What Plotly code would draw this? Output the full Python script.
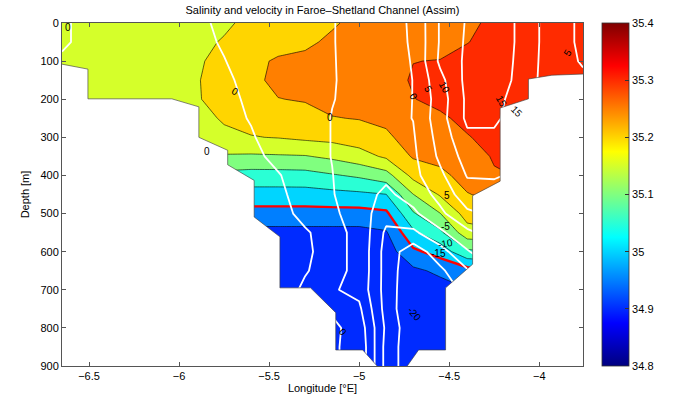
import plotly.graph_objects as go

# ---------------- data ----------------
lon_grid = [-6.65, -6.5, -6.35, -6.2, -6.05, -5.9, -5.75, -5.6, -5.45, -5.3,
            -5.15, -5.0, -4.85, -4.7, -4.55, -4.4, -4.25, -4.1, -3.95, -3.757]
depth_grid = [0, 50, 100, 150, 200, 250, 300, 350, 400, 450, 500, 550, 600,
              650, 700, 750, 800, 850, 900]

# salinity profiles (psu), one list per longitude column, top to bottom
sal_west = [35.175, 35.175, 35.178, 35.18, 35.182, 35.18, 35.172, 35.16, 35.09, 35.03,
            34.982, 34.935, 34.92, 34.92, 34.915, 34.912, 34.91, 34.91, 34.91]
salinity_by_lon = [
    sal_west, sal_west, sal_west, sal_west, sal_west,
    [35.18, 35.185, 35.19, 35.195, 35.195, 35.185, 35.175, 35.16, 35.09, 35.03, 34.982, 34.935, 34.92, 34.92, 34.915, 34.912, 34.91, 34.91, 34.91],
    [35.19, 35.205, 35.225, 35.235, 35.225, 35.205, 35.19, 35.145, 35.085, 35.03, 34.982, 34.935, 34.92, 34.92, 34.915, 34.912, 34.91, 34.91, 34.91],
    [35.215, 35.225, 35.24, 35.24, 35.23, 35.215, 35.198, 35.143, 35.08, 35.03, 34.982, 34.935, 34.92, 34.92, 34.915, 34.912, 34.91, 34.91, 34.91],
    [35.225, 35.235, 35.255, 35.26, 35.249, 35.225, 35.202, 35.145, 35.08, 35.03, 34.982, 34.935, 34.92, 34.92, 34.915, 34.912, 34.91, 34.91, 34.91],
    [35.235, 35.242, 35.26, 35.265, 35.253, 35.235, 35.21, 35.147, 35.082, 35.03, 34.982, 34.935, 34.92, 34.92, 34.915, 34.912, 34.91, 34.91, 34.91],
    [35.245, 35.258, 35.27, 35.272, 35.265, 35.248, 35.215, 35.16, 35.095, 35.035, 34.982, 34.935, 34.92, 34.92, 34.915, 34.912, 34.91, 34.91, 34.91],
    [35.262, 35.268, 35.275, 35.278, 35.272, 35.252, 35.225, 35.18, 35.108, 35.04, 34.982, 34.935, 34.92, 34.92, 34.915, 34.912, 34.91, 34.91, 34.91],
    [35.275, 35.28, 35.285, 35.288, 35.282, 35.262, 35.24, 35.208, 35.13, 35.049, 34.99, 34.945, 34.925, 34.92, 34.915, 34.912, 34.91, 34.91, 34.91],
    [35.29, 35.295, 35.2995, 35.303, 35.299, 35.29, 35.275, 35.255, 35.215, 35.149, 35.095, 35.04, 34.99, 34.94, 34.925, 34.918, 34.915, 34.912, 34.91],
    [35.285, 35.29, 35.301, 35.31, 35.308, 35.295, 35.28, 35.262, 35.24, 35.205, 35.149, 35.09, 35.02, 34.96, 34.93, 34.925, 34.92, 34.918, 34.915],
    [35.295, 35.299, 35.31, 35.318, 35.315, 35.308, 35.298, 35.28, 35.265, 35.248, 35.22, 35.18, 35.09, 34.98, 34.948, 34.94, 34.93, 34.925, 34.92],
    [35.305, 35.31, 35.318, 35.322, 35.32, 35.315, 35.31, 35.304, 35.296, 35.26, 35.23, 35.19, 35.098, 34.995, 34.948, 34.94, 34.93, 34.925, 34.92],
    [35.31, 35.315, 35.32, 35.325, 35.325, 35.32, 35.315, 35.31, 35.302, 35.27, 35.23, 35.19, 35.098, 34.995, 34.948, 34.94, 34.93, 34.925, 34.92],
    [35.315, 35.318, 35.322, 35.326, 35.326, 35.322, 35.316, 35.31, 35.302, 35.27, 35.23, 35.19, 35.098, 34.995, 34.948, 34.94, 34.93, 34.925, 34.92],
    [35.318, 35.32, 35.324, 35.327, 35.327, 35.323, 35.317, 35.31, 35.302, 35.27, 35.23, 35.19, 35.098, 34.995, 34.948, 34.94, 34.93, 34.925, 34.92],
]

# along-section velocity (cm/s), one list per depth row, west to east
velocity_by_depth = [
    [0.5, -1, -1, -1, -1, -0.5, 0.5, 1.5, 1.5, 1.5, 0.2, -1.5, -1.5, 0.5, 10.5, 15.5, 18, 14, 8, 4],
    [0.5, -1, -1, -1, -1, -0.8, 0.3, 1.5, 1.5, 1.5, 0.2, -1.5, -1.5, 0.4, 10.5, 15.8, 18, 14, 8, 4],
    [-0.5, -1, -1, -1, -1, -1, -0.1, 1.2, 1.5, 1.5, 0.2, -1.2, -1.5, 0.2, 11, 16, 18.5, 13.5, 8, 4.5],
    [-1, -1, -1, -1, -1, -1, -0.5, 0.8, 1.5, 1.5, 0.2, -1, -1.5, 0.05, 8.5, 16.5, 18.5, 13, 8, 6],
    [-1, -1, -1, -1, -1, -1, -0.8, 0.5, 1.5, 1.5, 0.1, -0.8, -1.3, 0.05, 7.5, 16, 17, 12, 8, 6],
    [-1, -1, -1, -1, -1, -1, -1, 0.2, 1.5, 1.5, -0.1, -0.8, -1.5, 0.1, 8, 16, 16, 12, 8, 6],
    [-1, -1, -1, -1, -1, -1, -1, -0.3, 1.5, 1.5, -0.1, -1.5, -2, -0.5, 7, 14, 14, 11, 8, 6],
    [-1, -1, -1, -1, -1, -1, -1, -0.8, 0.8, 1.5, -0.1, -2, -3, -1, 6, 12, 12, 10.5, 8, 6],
    [-1, -1, -1, -1, -1, -1, -1, -1, -0.2, 1.5, 0.1, -2.5, -4, -1.5, 4, 10.3, 10.5, 9, 8, 6],
    [-1, -1, -1, -1, -1, -1, -1, -1, -0.6, 1.2, 0.3, -3, -6, -3, 1.5, 8, 8, 8, 8, 6],
    [-1, -1, -1, -1, -1, -1, -1, -1, -1, 0.8, 1, -2.5, -8, -6, -1, 4, 6, 7, 7, 6],
    [-1, -1, -1, -1, -1, -1, -1, -1, -1, -0.3, 1.2, -1, -11, -11, -6, -1, 2, 4, 4, 4],
    [-1, -1, -1, -1, -1, -1, -1, -1, -1.5, -0.5, 1.2, -1, -12, -18, -12, -5.5, -1, 2, 3, 3],
    [-1, -1, -1, -1, -1, -1, -1, -1, -1.5, -0.2, 1.2, -1, -12, -19, -16, -10.5, -5.5, -1, 1, 1],
    [-1, -1, -1, -1, -1, -1, -1, -1, -1.5, 0.5, 0.5, -1.5, -12, -19.5, -17, -14, -8, -4, -2, -1],
    [-1, -1, -1, -1, -1, -1, -1, -1, -1.5, -1.5, 1.0, 1.0, -12, -19.8, -17, -14, -8, -4, -2, -1],
    [-1, -1, -1, -1, -1, -1, -1, -1, -1.5, -1.5, -1.5, 3, -11, -19, -16, -14, -8, -4, -2, -1],
    [-1, -1, -1, -1, -1, -1, -1, -1, -1.5, -1.5, -1.5, 4, -11.7, -19, -16, -14, -8, -4, -2, -1],
    [-1, -1, -1, -1, -1, -1, -1, -1, -1.5, -1.5, -1.5, 4, -11.7, -19, -16, -14, -8, -4, -2, -1],
]

# sea-floor outline along the section (lon, depth m)
bottom_lon = [-6.65, -6.506, -6.506, -6.04, -5.89, -5.89, -5.73, -5.73, -5.583, -5.583,
              -5.44, -5.44, -5.27, -5.13, -5.13, -4.98, -4.843, -4.778, -4.67, -4.52,
              -4.52, -4.37, -4.37, -4.217, -4.217, -4.06, -4.06, -3.93, -3.757]
bottom_depth = [108, 121, 199, 199, 220, 300, 334, 372, 413, 509,
                561, 695, 695, 760, 858, 858, 930, 930, 858, 858,
                695, 633, 453, 415, 223, 199, 147, 137, 134]

# velocity contour labels
vel_label_text = ["0", "0", "0", "0", "0", "5", "10", "15", "15", "5", "5", "-5", "-10", "-15", "-20", "0"]
vel_label_lon = [-6.617, -5.69, -5.845, -5.16, -4.70, -4.62, -4.525, -4.21, -4.125, -3.84,
                 -4.51, -4.52, -4.52, -4.56, -4.69, -5.087]
vel_label_depth = [13, 180, 336, 249, 194, 173, 168, 207, 232, 78, 453, 535, 578, 604, 764, 811]
vel_label_angle = [0, 30, 0, 0, 60, 60, 60, 60, 45, -60, 0, 0, -10, 0, 50, 50]

sal_levels_start, sal_levels_end, sal_step = 34.9, 35.3, 0.05
cbar_min, cbar_max = 34.8, 35.4
cbar_ticks = [34.8, 34.9, 35.0, 35.1, 35.2, 35.3, 35.4]
cbar_ticktext = ["34.8", "34.9", "35", "35.1", "35.2", "35.3", "35.4"]

# ---------------- styling helpers ----------------
def jet(t):
    def cl(v):
        return max(0.0, min(1.0, v))
    r = cl(min(4 * t - 1.5, -4 * t + 4.5))
    g = cl(min(4 * t - 0.5, -4 * t + 3.5))
    b = cl(min(4 * t + 0.5, -4 * t + 2.5))
    return "rgb(%d,%d,%d)" % (round(r * 255), round(g * 255), round(b * 255))

jet_scale = [[i / 64, jet(i / 64)] for i in range(65)]

n_levels = int(round((sal_levels_end - sal_levels_start) / sal_step)) + 1
band_cols = [jet((sal_levels_start - sal_step - cbar_min) / (cbar_max - cbar_min))]
for k in range(n_levels):
    lev = sal_levels_start + k * sal_step
    band_cols.append(jet((lev - cbar_min) / (cbar_max - cbar_min)))
fill_scale = []
for k, c in enumerate(band_cols):
    lo = max(0.0, (k - 0.5) / n_levels)
    hi = min(1.0, (k + 0.5) / n_levels)
    fill_scale.append([lo, c])
    fill_scale.append([hi, c])

sal_z = [list(row) for row in zip(*salinity_by_lon)]

FONT = "Liberation Sans, Arial, Helvetica, sans-serif"

fig = go.Figure()

fig.add_trace(go.Contour(
    x=lon_grid, y=depth_grid, z=sal_z,
    contours=dict(start=sal_levels_start, end=sal_levels_end, size=sal_step, coloring="fill"),
    colorscale=fill_scale, showscale=False,
    line=dict(color="black", width=0.6, smoothing=0),
    hoverinfo="skip",
))

fig.add_trace(go.Contour(
    x=lon_grid, y=depth_grid, z=sal_z,
    contours=dict(start=35.0, end=35.0, size=sal_step, coloring="none"),
    showscale=False,
    line=dict(color="red", width=2.4, smoothing=0),
    hoverinfo="skip",
))

xmin, xmax = lon_grid[0], lon_grid[-1]
mask_x = [xmin - 0.2] + bottom_lon + [xmax + 0.2, xmax + 0.2, xmin - 0.2]
mask_y = [bottom_depth[0]] + bottom_depth + [bottom_depth[-1], 1100, 1100]
fig.add_trace(go.Scatter(
    x=mask_x, y=mask_y, mode="lines", fill="toself", fillcolor="white",
    line=dict(color="rgba(60,60,60,0.9)", width=0.7), hoverinfo="skip", showlegend=False,
))

fig.add_trace(go.Contour(
    x=lon_grid, y=depth_grid, z=velocity_by_depth,
    contours=dict(start=-20, end=20, size=5, coloring="none"),
    showscale=False,
    line=dict(color="white", width=1.8, smoothing=0),
    hoverinfo="skip",
))

# colorbar (continuous jet)
cb_x = (602 - 62) / 521
cb_thick = 27
fig.add_trace(go.Scatter(
    x=[None], y=[None], mode="markers", hoverinfo="skip", showlegend=False,
    marker=dict(color=[cbar_min], colorscale=jet_scale, cmin=cbar_min, cmax=cbar_max,
                showscale=True,
                colorbar=dict(x=cb_x, xanchor="left", xpad=0, ypad=0,
                              y=0.5, yanchor="middle", len=1, lenmode="fraction",
                              thickness=cb_thick, thicknessmode="pixels",
                              outlinecolor="#333", outlinewidth=0.8,
                              tickvals=cbar_ticks, ticktext=cbar_ticktext,
                              ticks="inside", ticklen=4, tickcolor="#333",
                              tickfont=dict(family=FONT, size=11, color="black"))),
))

# tick marks on the left edge of the colorbar (MATLAB style, both sides)
for v in cbar_ticks[1:-1]:
    yy = (v - cbar_min) / (cbar_max - cbar_min)
    fig.add_shape(type="line", xref="paper", yref="paper",
                  x0=cb_x, x1=cb_x + 4 / 521, y0=yy, y1=yy,
                  line=dict(color="#333", width=1))

for t, lx, ly, ang in zip(vel_label_text, vel_label_lon, vel_label_depth, vel_label_angle):
    fig.add_annotation(x=lx, y=ly, text=t, showarrow=False, textangle=ang,
                       font=dict(family=FONT, size=10, color="black"))

axis_common = dict(showline=True, linecolor="#555", linewidth=1, mirror="ticks",
                   ticks="inside", ticklen=4, tickcolor="#555", showgrid=False, zeroline=False,
                   tickfont=dict(family=FONT, size=11, color="black"))

fig.update_layout(
    width=673, height=404,
    margin=dict(l=62, r=90, t=23, b=33),
    paper_bgcolor="white", plot_bgcolor="white",
    showlegend=False,
    title=dict(text="Salinity and velocity in Faroe\u2013Shetland Channel (Assim)",
               x=0.5, xref="paper", xanchor="center", y=1 - 10 / 404, yanchor="middle",
               font=dict(family=FONT, size=11, color="black")),
    xaxis=dict(range=[xmin, xmax], tickvals=[-6.5, -6, -5.5, -5, -4.5, -4],
               title=dict(text="Longitude [\u00b0E]", standoff=2,
                          font=dict(family=FONT, size=11, color="black")),
               **axis_common),
    yaxis=dict(range=[900, 0], tickvals=list(range(0, 901, 100)),
               title=dict(text="Depth [m]", standoff=8,
                          font=dict(family=FONT, size=11, color="black")),
               **axis_common),
)

fig.write_html("out.html")
